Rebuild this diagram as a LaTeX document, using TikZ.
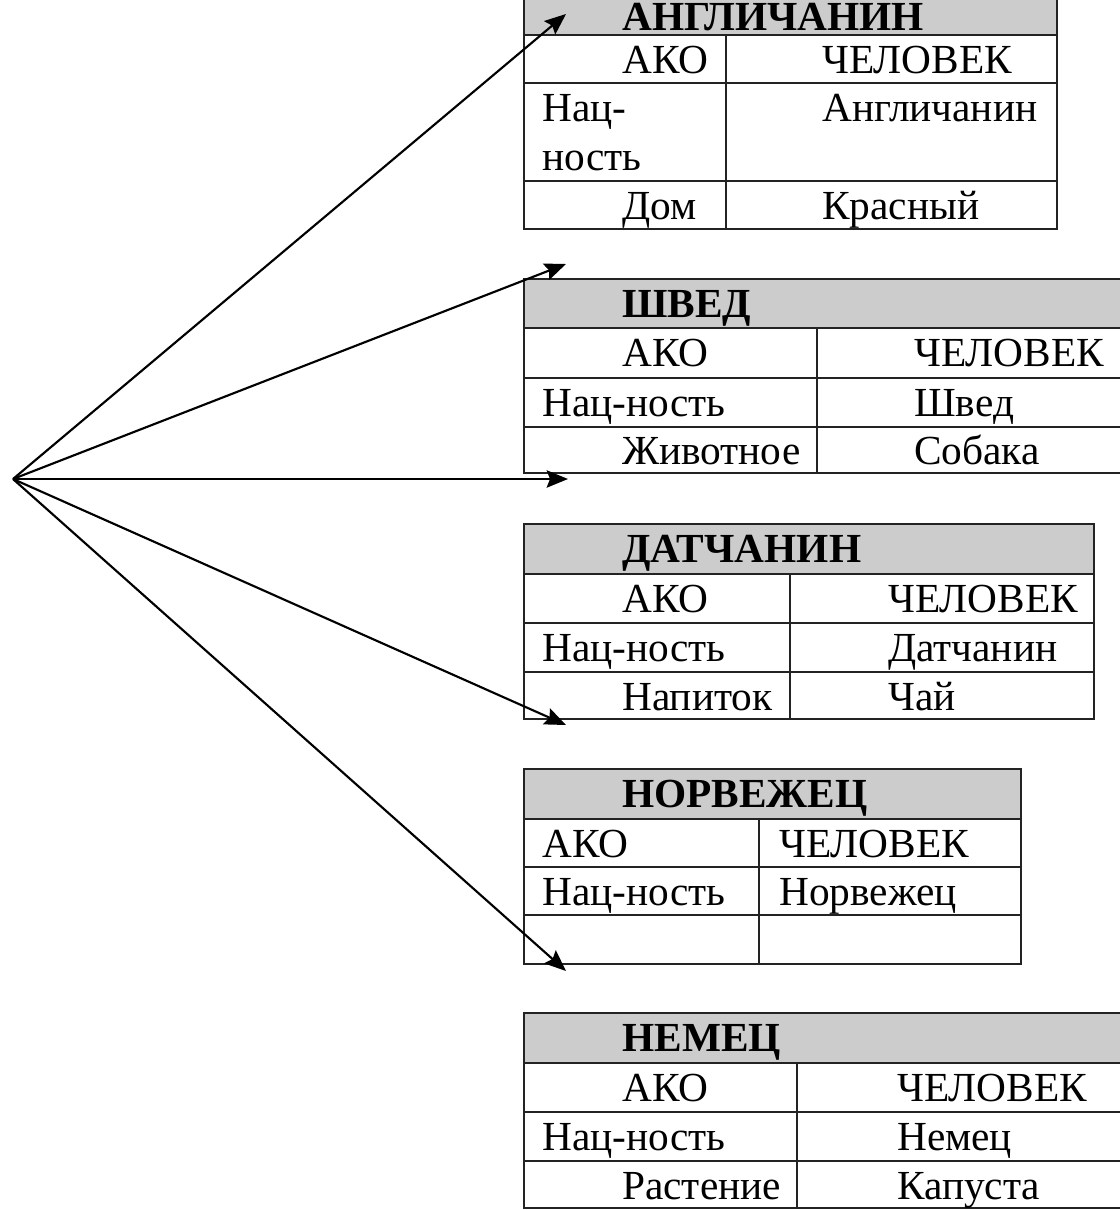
\documentclass[tikz,border=0pt]{standalone}
\usepackage{fontspec}
\setmainfont{Liberation Serif}
\usepackage{tikz}
\usetikzlibrary{arrows.meta}

\tikzset{
  cell/.style={anchor=base west, inner sep=0pt, font=\fontsize{31}{36.75}\selectfont},
  celltwo/.style={anchor=north west, inner sep=0pt, align=left, font=\fontsize{31}{36.75}\selectfont},
  title/.style={anchor=base west, inner sep=0pt, font=\fontsize{31}{36.75}\selectfont\bfseries},
  grid/.style={line width=1.3pt, draw={rgb, 255:red, 35; green, 35; blue, 35}},
  head/.style={fill={rgb, 255:red, 204; green, 204; blue, 204}},
  link/.style={line width=1.6pt, -{Stealth[length=16pt,width=13pt,inset=2.5pt]}},
}

\begin{document}
\begin{tikzpicture}[x=0.75pt,y=0.75pt,yscale=-1]
        \useasboundingbox (0,0) rectangle (1120,1210);

        %Table: Englishman
        \fill[head] (524,0) rectangle (1057,35);
        \draw[grid] (524,0) -- (524,229) -- (1057,229) -- (1057,0);
        \draw[grid] (524,35) -- (1057,35);
        \draw[grid] (524,83) -- (1057,83);
        \draw[grid] (524,181) -- (1057,181);
        \draw[grid] (726,35) -- (726,229);
        \node[title] (engT) at (622,30) {АНГЛИЧАНИН};
        \node[cell] (engAko) at (622,73) {АКО};
        \node[cell] (engAkoV) at (822,73) {ЧЕЛОВЕК};
        \node[celltwo] (engNat) at (542,94) {Нац-\\ность};
        \node[cell] (engNatV) at (822,121) {Англичанин};
        \node[cell] (engHouse) at (622,219) {Дом};
        \node[cell] (engHouseV) at (822,219) {Красный};

        %Table: Swede
        \fill[head] (524,279) rectangle (1120,328);
        \draw[grid] (1120,279) -- (524,279) -- (524,473) -- (1120,473);
        \draw[grid] (524,328) -- (1120,328);
        \draw[grid] (524,378) -- (1120,378);
        \draw[grid] (524,427) -- (1120,427);
        \draw[grid] (817,328) -- (817,473);
        \node[title] (sweT) at (622,317) {ШВЕД};
        \node[cell] (sweAko) at (622,366) {АКО};
        \node[cell] (sweAkoV) at (914,366) {ЧЕЛОВЕК};
        \node[cell] (sweNat) at (542,416) {Нац-ность};
        \node[cell] (sweNatV) at (914,416) {Швед};
        \node[cell] (swePet) at (622,464) {Животное};
        \node[cell] (swePetV) at (914,464) {Собака};

        %Table: Dane
        \fill[head] (524,524) rectangle (1094,574);
        \draw[grid] (524,524) rectangle (1094,719);
        \draw[grid] (524,574) -- (1094,574);
        \draw[grid] (524,623) -- (1094,623);
        \draw[grid] (524,672) -- (1094,672);
        \draw[grid] (790,574) -- (790,719);
        \node[title] (danT) at (622,562) {ДАТЧАНИН};
        \node[cell] (danAko) at (622,612) {АКО};
        \node[cell] (danAkoV) at (888,612) {ЧЕЛОВЕК};
        \node[cell] (danNat) at (542,661) {Нац-ность};
        \node[cell] (danNatV) at (888,661) {Датчанин};
        \node[cell] (danDrink) at (622,710) {Напиток};
        \node[cell] (danDrinkV) at (888,710) {Чай};

        %Table: Norwegian
        \fill[head] (524,769) rectangle (1021,819);
        \draw[grid] (524,769) rectangle (1021,964);
        \draw[grid] (524,819) -- (1021,819);
        \draw[grid] (524,867) -- (1021,867);
        \draw[grid] (524,915) -- (1021,915);
        \draw[grid] (759,819) -- (759,964);
        \node[title] (norT) at (622,807) {НОРВЕЖЕЦ};
        \node[cell] (norAko) at (542,857) {АКО};
        \node[cell] (norAkoV) at (779,857) {ЧЕЛОВЕК};
        \node[cell] (norNat) at (542,905) {Нац-ность};
        \node[cell] (norNatV) at (779,905) {Норвежец};

        %Table: German
        \fill[head] (524,1013) rectangle (1120,1063);
        \draw[grid] (1120,1013) -- (524,1013) -- (524,1208) -- (1120,1208);
        \draw[grid] (524,1063) -- (1120,1063);
        \draw[grid] (524,1112) -- (1120,1112);
        \draw[grid] (524,1161) -- (1120,1161);
        \draw[grid] (797,1063) -- (797,1208);
        \node[title] (gerT) at (622,1051) {НЕМЕЦ};
        \node[cell] (gerAko) at (622,1101) {АКО};
        \node[cell] (gerAkoV) at (897,1101) {ЧЕЛОВЕК};
        \node[cell] (gerNat) at (542,1150) {Нац-ность};
        \node[cell] (gerNatV) at (897,1150) {Немец};
        \node[cell] (gerPlant) at (622,1199) {Растение};
        \node[cell] (gerPlantV) at (897,1199) {Капуста};

        %Arrows from the common point
        \coordinate (src) at (13,479);
        \coordinate (tipEng) at (566,14);
        \coordinate (tipSwe) at (566,264);
        \coordinate (tipDan) at (568,479);
        \coordinate (tipNor) at (566,725);
        \coordinate (tipGer) at (566,971);
        \draw[link] (src) -- (tipEng);
        \draw[link] (src) -- (tipSwe);
        \draw[link] (src) -- (tipDan);
        \draw[link] (src) -- (tipNor);
        \draw[link] (src) -- (tipGer);
\end{tikzpicture}
\end{document}
